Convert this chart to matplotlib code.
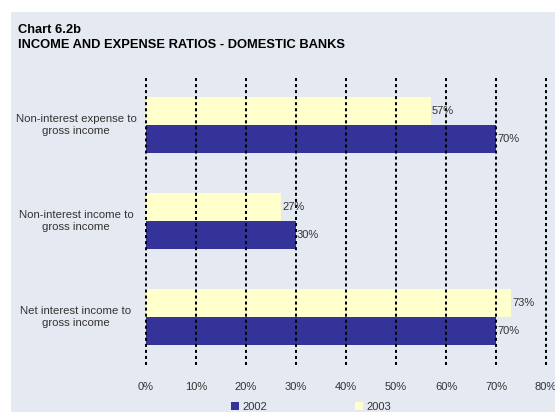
import matplotlib
matplotlib.use("Agg")
import matplotlib.pyplot as plt
from matplotlib.patches import Rectangle, Patch

categories = ["Net interest income to\ngross income",
              "Non-interest income to\ngross income",
              "Non-interest expense to\ngross income"]
values_2002 = [70, 30, 70]
values_2003 = [73, 27, 57]
series_names = ["2002", "2003"]
xticks = [0, 10, 20, 30, 40, 50, 60, 70, 80]

plt.rcParams['font.family'] = ['Liberation Sans', 'DejaVu Sans']

W, H = 555, 412
fig = plt.figure(figsize=(W/100, H/100), dpi=100)
fig.patch.set_facecolor('white')
bg = '#E5E9F1'
fig.patches.append(Rectangle((11/W, 0), 1 - 11/W, 1 - 12/H, transform=fig.transFigure,
                             facecolor=bg, edgecolor='none', zorder=-10))

ax = fig.add_axes([146/W, 1 - 365/H, 400/W, 288/H])
ax.set_facecolor(bg)
ax.patch.set_alpha(0)
for s in ax.spines.values():
    s.set_visible(False)

h = 0.287
y = list(range(len(categories)))
b02 = ax.barh([i - h/2 for i in y], values_2002, height=h, color='#333399', zorder=2)
b03 = ax.barh([i + h/2 for i in y], values_2003, height=h, color='#FFFFCC', zorder=2)

for bars, vals in ((b02, values_2002), (b03, values_2003)):
    for r, v in zip(bars, vals):
        ax.text(v + 0.2, r.get_y() + r.get_height()/2, f"{v}%", va='center', ha='left',
                fontsize=8, color='#333333', zorder=4)

ax.set_xlim(0, 80)
ax.set_ylim(-0.5, 2.5)
for t in xticks:
    ax.axvline(t, color='black', linestyle=(0, (1.5, 1.5)), linewidth=1.45, zorder=3,
               clip_on=False)
ax.set_xticks(xticks)
ax.set_xticklabels([f"{t}%" for t in xticks], fontsize=8, color='#333333')
ax.tick_params(axis='x', length=0, pad=12)
ax.set_yticks([])
for i, c in enumerate(categories):
    ax.text(-0.175, i, c, transform=ax.get_yaxis_transform(), ha='center', va='center',
            fontsize=8.2, color='#333333', linespacing=1.2)

fig.text(18/W, 1 - 33/H, "Chart 6.2b", fontsize=9.3, fontweight='bold', color='black')
fig.text(18/W, 1 - 48/H, "INCOME AND EXPENSE RATIOS - DOMESTIC BANKS", fontsize=9.3,
         fontweight='bold', color='black')

handles = [Patch(facecolor='#333399'), Patch(facecolor='#FFFFCC')]
leg = fig.legend(handles, series_names, loc='center', bbox_to_anchor=(311/W, 1 - 407/H),
                 ncol=2, frameon=False, fontsize=8, handlelength=0.7, handleheight=0.7,
                 handletextpad=0.3, columnspacing=7.9)
for t in leg.get_texts():
    t.set_color('#333333')

fig.savefig("out.png", dpi=100, facecolor=fig.get_facecolor())
